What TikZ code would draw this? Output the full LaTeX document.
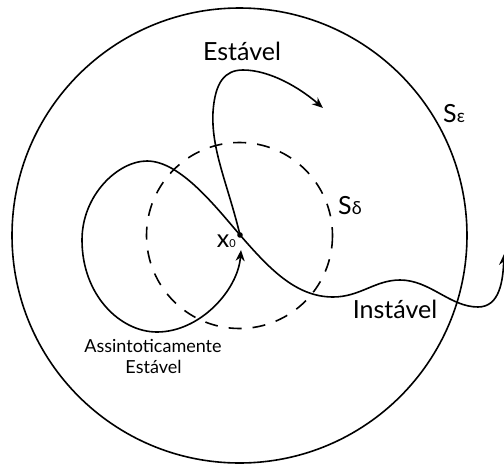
\documentclass[tikz,border=0pt]{standalone}
\usepackage{fontspec}
\setmainfont{Lato}
\usetikzlibrary{arrows.meta}
\tikzset{
  region/.style={line width=1.6pt},
  traj/.style={line width=1.6pt},
  trajarrow/.style={traj,-{Stealth[length=11pt,width=9pt]}},
  biglabel/.style={font=\fontsize{25}{27}\selectfont,inner sep=0pt},
  smalllabel/.style={font=\fontsize{18}{21}\selectfont,inner sep=0pt},
}
\newcommand{\subfont}{\fontsize{18}{18}\selectfont}

\begin{document}
\begin{tikzpicture}[x=1pt,y=-1pt]
  \clip (0,0) rectangle (504,464);
  \coordinate (c) at (239.5,235.5);
  \coordinate (x0) at (240,235);
  % regions
  \draw[region] (c) circle[radius=227.5];
  \draw[region,dash pattern=on 13pt off 11pt] (c) circle[radius=93];
  % trajectories
  \draw[trajarrow] (x0) .. controls (228,185) and (211,150) .. (213,112)
    .. controls (215,82) and (225,70) .. (243,70)
    .. controls (270,70) and (300,88) .. (323,108);
  \draw[trajarrow] (x0) .. controls (215,206) and (180,161) .. (147,161)
    .. controls (118,161) and (82,195) .. (82,240)
    .. controls (82,295) and (120,332) .. (157,332)
    .. controls (200,332) and (238,290) .. (241,250);
  \draw[trajarrow] (x0) .. controls (268,267) and (295,297) .. (333,297)
    .. controls (360,297) and (375,280) .. (400,280)
    .. controls (430,280) and (450,307) .. (478,307)
    .. controls (500,307) and (503,280) .. (504,254);
  \fill (x0) circle[radius=2.8];
  % labels
  \node[biglabel,anchor=base] (estavel) at (242,60) {Estável};
  \node[biglabel,anchor=base] (instavel) at (395,318) {Instável};
  \node[biglabel,anchor=base west] (sdelta) at (338,214) {S{\subfont δ}};
  \node[biglabel,anchor=base west] (seps) at (443,122) {S{\subfont ε}};
  \node[biglabel,anchor=base east] (x0lab) at (236,247) {x{\fontsize{11}{11}\selectfont 0}};
  \node[smalllabel,anchor=base] (assint) at (153,352) {Assintoticamente};
  \node[smalllabel,anchor=base] (assint2) at (153.5,373) {Estável};
\end{tikzpicture}
\end{document}
